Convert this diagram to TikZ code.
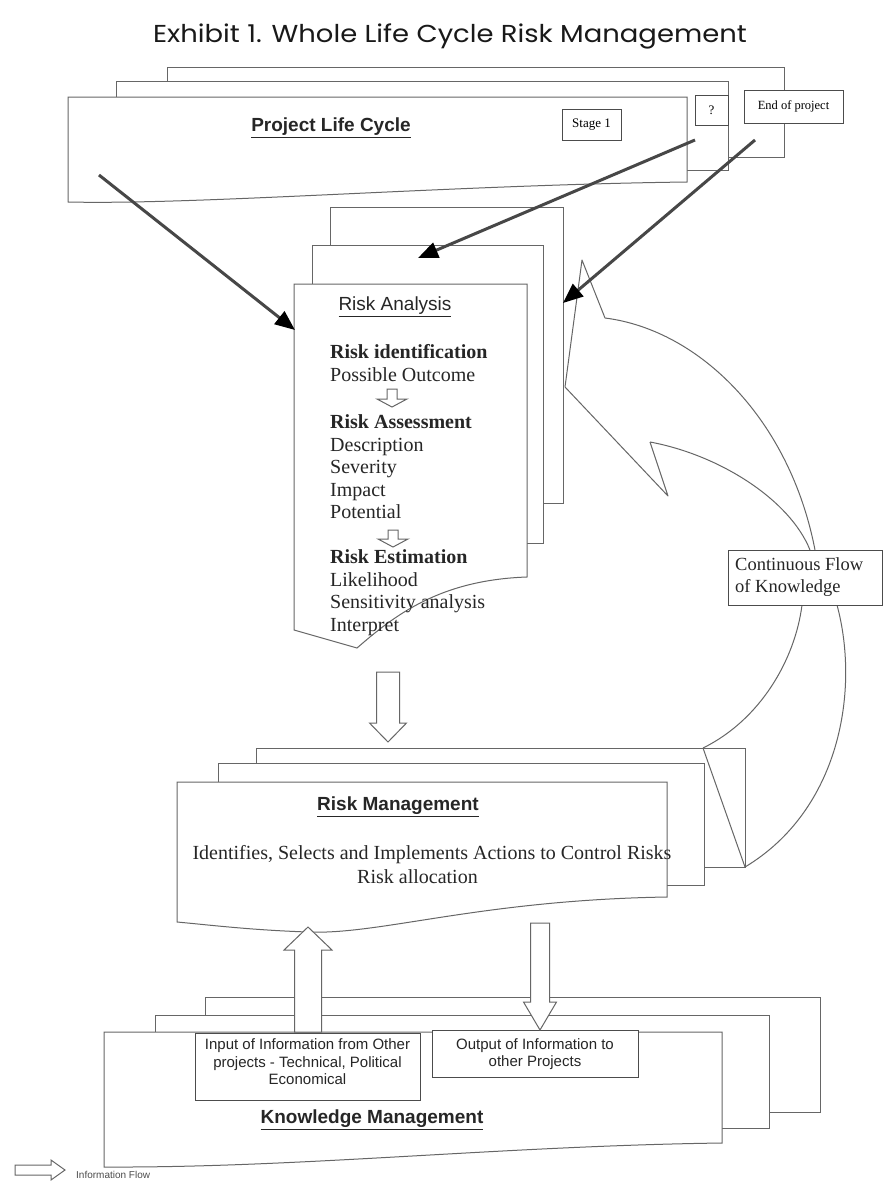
\documentclass[tikz,border=0pt]{standalone}
\usepackage{fontspec}
\setmainfont{Liberation Serif}
\newfontfamily\arialf{Liberation Sans}
\newfontfamily\titlef{Poppins}
\usetikzlibrary{calc,arrows.meta}

% hollow block arrow, vertical: tail, tip, shaft half-width, head half-width, signed head length
\newcommand\vblock[5]{\draw[hollow] ($(#1)+(-#3,0)$) -- ($(#2)+(-#3,#5)$) -- ($(#2)+(-#4,#5)$) -- (#2) -- ($(#2)+(#4,#5)$) -- ($(#2)+(#3,#5)$) -- ($(#1)+(#3,0)$) -- cycle;}
% hollow block arrow, horizontal
\newcommand\hblock[5]{\draw[hollow] ($(#1)+(0,-#3)$) -- ($(#2)+(#5,-#3)$) -- ($(#2)+(#5,-#4)$) -- (#2) -- ($(#2)+(#5,#4)$) -- ($(#2)+(#5,#3)$) -- ($(#1)+(0,#3)$) -- cycle;}

\begin{document}
\begin{tikzpicture}[x=1pt,y=-1pt,
  page/.style={draw=black!60, line width=1pt, fill=white},
  hollow/.style={draw=black!60, line width=1pt, fill=white},
  band/.style={draw=black!60, line width=1pt},
  ptr/.style={draw=black!72, line width=3pt, -{Triangle[length=20pt,width=16pt,black]}},
  smallbox/.style={draw=black!70, line width=1pt, fill=white, inner sep=0pt},
  body/.style={font=\fontsize{20}{23}\selectfont, text=black!85, inner sep=0pt, anchor=base west},
  bodyb/.style={body, font=\bfseries\fontsize{20}{23}\selectfont},
  heading/.style={font=\arialf\bfseries\fontsize{19}{22}\selectfont, text=black!85, inner sep=0pt},
  small/.style={font=\arialf\fontsize{15}{17.5}\selectfont, text=black!85, inner sep=0pt, align=center}]

\useasboundingbox (0,0) rectangle (883,1181);
\fill[white] (0,0) rectangle (883,1181);

% title
\node[font=\titlef\fontsize{24.5}{28}\selectfont, text=black!90, anchor=base, inner sep=0pt] (title) at (450,42) {\scalebox{1.12}[1]{Exhibit 1. Whole Life Cycle Risk Management}};

% ---- project life cycle stack ----
\draw[page] (167,67) rectangle (784,157);
\draw[page] (116,81) rectangle (728,170);
\draw[page] (68,97) -- (687,97) -- (687,182) .. controls (450,185) and (200,205) .. (68,202) -- cycle;
\node[heading] (plc) at (331,128) {\underline{Project Life Cycle}};
\node[smallbox, minimum width=59pt, minimum height=31pt, font=\fontsize{13}{15}\selectfont] (stage) at (591.5,124.5) {Stage 1};
\node[smallbox, minimum width=33pt, minimum height=30pt, font=\fontsize{13}{15}\selectfont] (qbox) at (711.5,110) {?};
\node[smallbox, minimum width=99pt, minimum height=33pt, font=\fontsize{12.5}{15}\selectfont] (eop) at (793.5,106.5) {End of project};

% ---- risk analysis stack ----
\draw[page] (330,207) rectangle (563,503);
\draw[page] (312,245) rectangle (543,543);
\draw[page] (294,284) -- (527,284) -- (527,577) .. controls (440,580) and (395,615) .. (357,648) -- (294,630) -- cycle;

\node[font=\arialf\fontsize{19}{22}\selectfont, text=black!85, inner sep=0pt] (ra) at (395,307) {\underline{Risk Analysis}};
\node[bodyb] (ri) at (330,358) {Risk identification};
\node[body] (po) at (330,381) {Possible Outcome};
\coordinate (s1a) at (392,389); \coordinate (s1b) at (392,407);
\vblock{s1a}{s1b}{5}{15}{-8}
\node[bodyb] (rass) at (330,428) {Risk Assessment};
\node[body] (de) at (330,451) {Description};
\node[body] (se) at (330,473) {Severity};
\node[body] (im) at (330,496) {Impact};
\node[body] (pt) at (330,518) {Potential};
\coordinate (s2a) at (393,530); \coordinate (s2b) at (393,547);
\vblock{s2a}{s2b}{5}{15}{-8}
\node[bodyb] (re) at (330,563) {Risk Estimation};
\node[body] (li) at (330,586) {Likelihood};
\node[body] (sa) at (330,608) {Sensitivity analysis};
\node[body] (ip) at (330,631) {Interpret};

% ---- risk management stack ----
\draw[page] (256,748) rectangle (745,867);
\draw[page] (218,763) rectangle (704,885);
\draw[page] (177,782) -- (667,782) -- (667,897) .. controls (480,900) and (380,935) .. (308,932) .. controls (250,930) and (210,925) .. (177,922) -- cycle;
\node[heading] (rm) at (398,807) {\underline{Risk Management}};
\node[body, anchor=base] (rmt) at (432,859) {Identifies, Selects and Implements Actions to Control Risks};
\node[body] (ral) at (357,883) {Risk allocation};

% ---- knowledge management stack ----
\draw[page] (205,997) rectangle (820,1112);
\draw[page] (155,1015) rectangle (769,1128);
\draw[page] (104,1032) -- (722,1032) -- (722,1143) .. controls (500,1146) and (300,1168) .. (104,1167) -- cycle;
\node[draw=black!70, line width=1pt, fill=white, minimum width=225pt, minimum height=67pt, inner sep=0pt] (inbox) at (307.5,1066.5) {};
\node[small] (intext) at (307.5,1062) {Input of Information from Other\\projects - Technical, Political\\Economical};
\node[draw=black!70, line width=1pt, fill=white, minimum width=206pt, minimum height=47pt, inner sep=0pt] (outbox) at (535,1053.5) {};
\node[small] (outtext) at (535,1054) {Output of Information to\\other Projects};
\node[heading] (km) at (372,1120) {\underline{Knowledge Management}};

% ---- hollow flow arrows ----
\coordinate (d1s) at (388,672); \coordinate (d1t) at (388,742);
\vblock{d1s}{d1t}{11.5}{18.5}{-19}
\coordinate (ups) at (308,1032); \coordinate (upt) at (308,927);
\vblock{ups}{upt}{13.5}{24}{23}
\coordinate (dns) at (540,923); \coordinate (dnt) at (540,1030);
\vblock{dns}{dnt}{9.5}{16.5}{-28}

% ---- continuous flow of knowledge (curved band) ----
\coordinate (tip) at (582,260);
\coordinate (outA) at (605,318);
\coordinate (barb) at (565,387);
\coordinate (notch) at (668,496);
\coordinate (inA) at (650,442);
\coordinate (boxTL) at (810,550);
\coordinate (boxTR) at (815,550);
\coordinate (boxBL) at (802,605);
\coordinate (boxBR) at (837,605);
\coordinate (endA) at (703,748);
\coordinate (endB) at (745,867);
\draw[band, line join=round] (outA) -- (tip) -- (barb) -- (notch) -- (inA);
\draw[band] (outA) .. controls (700,330) and (790,420) .. (boxTR);
\draw[band] (inA) .. controls (720,455) and (790,500) .. (boxTL);
\draw[band] (boxBL) .. controls (795,660) and (760,720) .. (endA);
\draw[band] (boxBR) .. controls (860,690) and (840,810) .. (endB);
\draw[band] (endA) -- (endB);
\node[draw=black!70, line width=1pt, fill=white, minimum width=154pt, minimum height=55pt, inner sep=0pt] (cfk) at (805.5,577.5) {};
\node[font=\fontsize{18.5}{22}\selectfont, text=black!85, align=left, anchor=west, inner sep=0pt] (cfkt) at (735,577) {Continuous Flow\\of Knowledge};

% ---- project life cycle feeds risk analysis ----
\coordinate (a1s) at (99,175);  \coordinate (a1t) at (295,330);
\coordinate (a2s) at (695,140); \coordinate (a2t) at (418,258);
\coordinate (a3s) at (755,140); \coordinate (a3t) at (563,303);
\draw[ptr] (a1s) -- (a1t);
\draw[ptr] (a2s) -- (a2t);
\draw[ptr] (a3s) -- (a3t);

% ---- legend ----
\coordinate (lgs) at (15,1170); \coordinate (lgt) at (65,1170);
\hblock{lgs}{lgt}{5}{10}{-14}
\node[font=\arialf\fontsize{10}{12}\selectfont, text=black!70, anchor=west, inner sep=0pt] (lgtext) at (76,1175) {Information Flow};
\end{tikzpicture}
\end{document}
